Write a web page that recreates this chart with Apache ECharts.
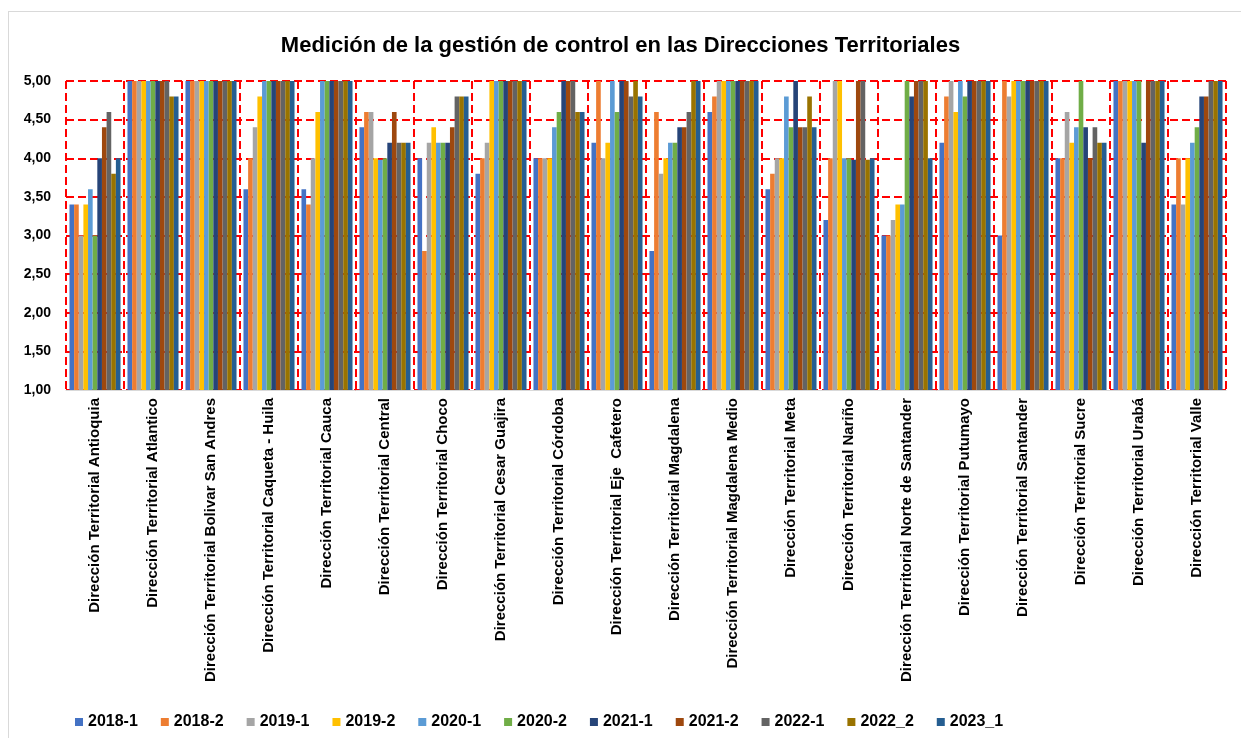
<!DOCTYPE html>
<html>
<head>
<meta charset="utf-8">
<script src="https://cdn.jsdelivr.net/npm/echarts@6/dist/echarts.min.js"></script>
<style>
  html, body { margin: 0; padding: 0; background: #fff; overflow: hidden; }
  #frame { position: absolute; left: 8px; top: 11px; width: 1300px; height: 800px; border: 1px solid #d9d9d9; }
  #chart { position: absolute; left: 0; top: 0; width: 1241px; height: 738px; }
</style>
</head>
<body>
<div id="frame"></div>
<div id="chart"></div>
<script>
var categories = [
  'Dirección Territorial Antioquia',
  'Dirección Territorial Atlantico',
  'Dirección Territorial Bolivar San Andres',
  'Dirección Territorial Caqueta - Huila',
  'Dirección Territorial Cauca',
  'Dirección Territorial Central',
  'Dirección Territorial Choco',
  'Dirección Territorial Cesar Guajira',
  'Dirección Territorial Córdoba',
  'Dirección Territorial Eje  Cafetero',
  'Dirección Territorial Magdalena',
  'Dirección Territorial Magdalena Medio',
  'Dirección Territorial Meta',
  'Dirección Territorial Nariño',
  'Dirección Territorial Norte de Santander',
  'Dirección Territorial Putumayo',
  'Dirección Territorial Santander',
  'Dirección Territorial Sucre',
  'Dirección Territorial Urabá',
  'Dirección Territorial Valle'
];

var seriesNames = ['2018-1', '2018-2', '2019-1', '2019-2', '2020-1', '2020-2', '2021-1', '2021-2', '2022-1', '2022_2', '2023_1'];
var colors = ['#4472C4', '#ED7D31', '#A5A5A5', '#FFC000', '#5B9BD5', '#70AD47', '#264478', '#9E480E', '#636363', '#997300', '#255E91'];

// one array per period, one value per Dirección (same order as categories)
var s2018_1 = [3.4, 5, 5, 3.6, 3.6, 4.4, 4.0, 3.8, 4.0, 4.2, 2.8, 4.6, 3.6, 3.2, 3.0, 4.2, 3.0, 4.0, 5, 3.4];
var s2018_2 = [3.4, 5, 5, 4.0, 3.4, 4.6, 2.8, 4.0, 4.0, 5, 4.6, 4.8, 3.8, 4.0, 3.0, 4.8, 5, 4.0, 5, 4.0];
var s2019_1 = [3.0, 5, 5, 4.4, 4.0, 4.6, 4.2, 4.2, 4.0, 4.0, 3.8, 5, 4.0, 5, 3.2, 5, 4.8, 4.6, 5, 3.4];
var s2019_2 = [3.4, 5, 5, 4.8, 4.6, 4.0, 4.4, 5, 4.0, 4.2, 4.0, 5, 4.0, 5, 3.4, 4.6, 5, 4.2, 5, 4.0];
var s2020_1 = [3.6, 5, 5, 5, 5, 3.98, 4.2, 5, 4.4, 5, 4.2, 5, 4.8, 4.0, 3.4, 5, 5, 4.4, 5, 4.2];
var s2020_2 = [3.0, 5, 5, 5, 5, 4.0, 4.2, 5, 4.6, 4.6, 4.2, 5, 4.4, 4.0, 5, 4.8, 5, 5, 5, 4.4];
var s2021_1 = [4.0, 5, 5, 5, 5, 4.2, 4.2, 5, 5, 5, 4.4, 5, 5, 3.98, 4.8, 5, 5, 4.4, 4.2, 4.8];
var s2021_2 = [4.4, 5, 5, 5, 5, 4.6, 4.4, 5, 5, 5, 4.4, 5, 4.4, 5, 5, 5, 5, 4.0, 5, 4.8];
var s2022_1 = [4.6, 5, 5, 5, 5, 4.2, 4.8, 5, 5, 4.8, 4.6, 5, 4.4, 5, 5, 5, 5, 4.4, 5, 5];
var s2022_2 = [3.8, 4.8, 5, 5, 5, 4.2, 4.8, 5, 4.6, 5, 5, 5, 4.8, 3.98, 5, 5, 5, 4.2, 5, 5];
var s2023_1 = [4.0, 4.8, 5, 5, 5, 4.2, 4.8, 5, 4.6, 4.8, 5, 5, 4.4, 4.0, 4.0, 5, 5, 4.2, 5, 5];

var allValues = [s2018_1, s2018_2, s2019_1, s2019_2, s2020_1, s2020_2, s2021_1, s2021_2, s2022_1, s2022_2, s2023_1];

var fontFam = '"Liberation Sans", Arial, sans-serif';

var series = seriesNames.map(function (name, i) {
  return {
    name: name,
    type: 'bar',
    data: allValues[i],
    barGap: '0%',
    barCategoryGap: '12%',
    itemStyle: { color: colors[i] }
  };
});

var myChart = echarts.init(document.getElementById('chart'));
myChart.setOption({
  animation: false,
  color: colors,
  title: {
    text: 'Medición de la gestión de control en las Direcciones Territoriales',
    left: 'center',
    top: 30,
    textStyle: { fontFamily: fontFam, fontSize: 22, fontWeight: 'bold', color: '#000' }
  },
  legend: {
    left: 70,
    top: 709,
    itemWidth: 8,
    itemHeight: 8,
    itemGap: 23,
    icon: 'rect',
    textStyle: { fontFamily: fontFam, fontSize: 16, fontWeight: 'bold', color: '#000' }
  },
  grid: { left: 66, right: 15, top: 81, bottom: 348, containLabel: false },
  xAxis: {
    type: 'category',
    data: categories,
    axisLine: { show: true, lineStyle: { color: '#d9d9d9', width: 1 } },
    axisTick: { show: false },
    axisLabel: {
      interval: 0,
      rotate: 90,
      margin: 8,
      fontFamily: fontFam,
      fontSize: 15,
      fontWeight: 'bold',
      color: '#000'
    },
    splitLine: {
      show: true,
      interval: 0,
      lineStyle: { color: '#ff0000', type: [8, 4], width: 2 }
    }
  },
  yAxis: {
    type: 'value',
    min: 1,
    max: 5,
    interval: 0.5,
    axisLine: { show: false },
    axisTick: { show: false },
    axisLabel: {
      margin: 15,
      fontFamily: fontFam,
      fontSize: 14,
      fontWeight: 'bold',
      color: '#000',
      formatter: function (v) { return v.toFixed(2).replace('.', ','); }
    },
    splitLine: {
      show: true,
      lineStyle: { color: '#ff0000', type: [8, 4], width: 2 }
    }
  },
  series: series
});
</script>
</body>
</html>
